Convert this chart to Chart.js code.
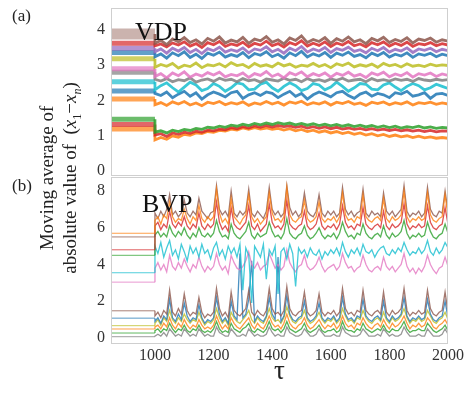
<!DOCTYPE html>
<html>
<head>
<meta charset="utf-8">
<script src="https://cdn.jsdelivr.net/npm/chart.js@4.4.0/dist/chart.umd.min.js"></script>
<style>
  html, body { margin: 0; padding: 0; background: #fff; }
  #wrap { position: relative; width: 471px; height: 394px; font-family: "Liberation Serif", "DejaVu Serif", serif; color: #222; }
  #topChart { position: absolute; left: 0; top: 0; }
  #botChart { position: absolute; left: 0; top: 176px; }
  .tag { position: absolute; left: 12px; font-size: 17px; line-height: 19px; }
  #ylab { position: absolute; left: 62px; top: 178px; width: 280px; transform: translate(-50%, -50%) rotate(-90deg);
          text-align: center; font-size: 19px; line-height: 23px; white-space: nowrap; }
  #ylab sub { font-size: 12px; }
</style>
</head>
<body>
<div id="wrap">
  <canvas id="topChart" width="471" height="177"></canvas>
  <canvas id="botChart" width="471" height="218"></canvas>
  <div class="tag" style="top:6px">(a)</div>
  <div class="tag" style="top:176px">(b)</div>
  <div id="ylab">Moving average of<br>absolute value of &nbsp;(<i>x</i><sub>1</sub>&minus;<i>x<sub>n</sub></i>)</div>
</div>
<script>
// ---- data ----
const tauStart = 850;
const tauTop = [1000,1020,1040,1060,1080,1100,1120,1140,1160,1180,
  1200,1220,1240,1260,1280,1300,1320,1340,1360,1380,
  1400,1420,1440,1460,1480,1500,1520,1540,1560,1580,
  1600,1620,1640,1660,1680,1700,1720,1740,1760,1780,
  1800,1820,1840,1860,1880,1900,1920,1940,1960,1980,2000];
const tauBot = [1000,1010,1020,1030,1040,1050,1060,1070,1080,1090,
  1100,1110,1120,1130,1140,1150,1160,1170,1180,1190,
  1200,1210,1220,1230,1240,1250,1260,1270,1280,1290,
  1300,1310,1320,1330,1340,1350,1360,1370,1380,1390,
  1400,1410,1420,1430,1440,1450,1460,1470,1480,1490,
  1500,1510,1520,1530,1540,1550,1560,1570,1580,1590,
  1600,1610,1620,1630,1640,1650,1660,1670,1680,1690,
  1700,1710,1720,1730,1740,1750,1760,1770,1780,1790,
  1800,1810,1820,1830,1840,1850,1860,1870,1880,1890,
  1900,1910,1920,1930,1940,1950,1960,1970,1980,1990,2000];
const vdpTicks = [0, 1, 2, 3, 4];
const bvpTicks = [0, 2, 4, 6, 8];
const tauTicks = [1000, 1200, 1400, 1600, 1800, 2000];

// (a) VDP: level before tau=1000, then values
const vdpPre = [3.88, 3.62, 3.48, 3.36, 3.18, 2.90, 2.80, 2.53, 2.27, 2.04, 1.47, 1.32, 1.19];
const vdpBrown = [3.62,3.70,3.58,3.74,3.66,3.78,3.64,3.72,3.60,3.76,
  3.68,3.80,3.63,3.71,3.66,3.79,3.62,3.74,3.69,3.81,
  3.65,3.72,3.60,3.77,3.70,3.83,3.64,3.73,3.67,3.78,
  3.62,3.75,3.68,3.80,3.66,3.72,3.61,3.76,3.69,3.79,
  3.64,3.73,3.67,3.78,3.63,3.74,3.70,3.77,3.65,3.72,3.68];
const vdpRed = [3.55,3.60,3.52,3.63,3.57,3.66,3.54,3.61,3.50,3.64,
  3.58,3.67,3.53,3.60,3.56,3.65,3.52,3.62,3.57,3.68,
  3.55,3.61,3.51,3.64,3.58,3.69,3.54,3.62,3.56,3.66,
  3.53,3.63,3.57,3.67,3.55,3.60,3.52,3.64,3.58,3.66,
  3.54,3.62,3.56,3.65,3.53,3.61,3.58,3.64,3.55,3.61,3.57];
const vdpPurple = [3.38,3.46,3.34,3.48,3.40,3.50,3.36,3.45,3.33,3.47,
  3.41,3.51,3.37,3.44,3.39,3.49,3.35,3.46,3.42,3.52,
  3.38,3.45,3.34,3.48,3.41,3.53,3.37,3.46,3.40,3.50,
  3.36,3.47,3.42,3.51,3.39,3.44,3.35,3.48,3.41,3.50,
  3.37,3.45,3.40,3.49,3.36,3.46,3.42,3.48,3.38,3.45,3.41];
const vdpBlue = [3.24,3.32,3.20,3.35,3.27,3.38,3.22,3.31,3.19,3.34,
  3.28,3.37,3.23,3.30,3.25,3.36,3.21,3.33,3.28,3.38,
  3.24,3.31,3.20,3.35,3.27,3.39,3.23,3.32,3.26,3.36,
  3.22,3.34,3.28,3.37,3.25,3.30,3.21,3.34,3.27,3.36,
  3.23,3.31,3.26,3.35,3.22,3.32,3.28,3.34,3.24,3.31,3.27];
const vdpOlive = [2.94,3.02,2.97,3.05,2.92,3.00,2.96,3.06,2.93,3.01,
  2.98,3.04,2.95,3.07,2.99,3.02,2.93,3.05,2.97,3.01,
  2.95,3.06,2.98,3.03,2.94,3.00,2.97,3.05,2.96,3.02,
  2.93,3.04,2.99,3.06,2.95,3.01,2.97,3.03,2.94,3.05,
  2.98,3.02,2.95,3.04,2.97,3.00,2.96,3.03,2.98,3.01,2.99];
const vdpPink = [2.68,2.76,2.64,2.78,2.70,2.81,2.66,2.75,2.69,2.79,
  2.72,2.80,2.67,2.74,2.70,2.78,2.65,2.76,2.71,2.82,
  2.68,2.75,2.64,2.79,2.72,2.81,2.67,2.76,2.70,2.78,
  2.66,2.77,2.71,2.80,2.69,2.74,2.65,2.78,2.72,2.80,
  2.67,2.75,2.70,2.79,2.66,2.76,2.72,2.78,2.68,2.75,2.71];
const vdpGray = [2.60,2.55,2.62,2.53,2.59,2.56,2.64,2.52,2.58,2.61,
  2.54,2.63,2.57,2.60,2.53,2.62,2.56,2.59,2.52,2.61,
  2.58,2.55,2.63,2.57,2.60,2.53,2.62,2.56,2.59,2.54,
  2.61,2.57,2.63,2.55,2.58,2.60,2.53,2.62,2.56,2.59,
  2.55,2.61,2.57,2.60,2.54,2.62,2.58,2.56,2.60,2.57,2.59];
const vdpCyan = [2.30,2.42,2.50,2.36,2.24,2.38,2.52,2.44,2.28,2.34,
  2.48,2.40,2.26,2.36,2.50,2.46,2.30,2.32,2.46,2.52,
  2.36,2.26,2.40,2.50,2.42,2.28,2.34,2.48,2.44,2.30,
  2.38,2.52,2.40,2.26,2.36,2.48,2.46,2.32,2.30,2.44,
  2.50,2.38,2.28,2.40,2.48,2.42,2.30,2.36,2.46,2.40,2.34];
const vdpBlue2 = [2.20,2.14,2.24,2.08,2.18,2.26,2.12,2.22,2.04,2.16,
  2.24,2.18,2.10,2.22,2.26,2.06,2.16,2.22,2.14,2.24,
  2.20,2.08,2.18,2.26,2.12,2.20,2.04,2.16,2.24,2.18,
  2.10,2.22,2.26,2.14,2.06,2.18,2.24,2.12,2.20,2.16,
  2.08,2.22,2.18,2.26,2.12,2.16,2.22,2.06,2.18,2.20,2.14];
const vdpOrange = [1.88,1.94,1.86,1.96,1.90,1.97,1.87,1.93,1.85,1.95,
  1.91,1.97,1.88,1.94,1.90,1.96,1.86,1.93,1.89,1.97,
  1.90,1.95,1.87,1.96,1.92,1.98,1.88,1.94,1.90,1.96,
  1.87,1.95,1.91,1.97,1.89,1.93,1.86,1.95,1.91,1.96,
  1.88,1.94,1.90,1.96,1.87,1.94,1.91,1.95,1.89,1.93,1.90];
const vdpGreenLow = [1.10,1.14,1.08,1.16,1.12,1.18,1.15,1.21,1.18,1.24,
  1.22,1.27,1.24,1.30,1.27,1.33,1.29,1.35,1.31,1.36,
  1.32,1.37,1.33,1.36,1.31,1.35,1.30,1.34,1.29,1.33,
  1.28,1.32,1.27,1.31,1.26,1.30,1.25,1.29,1.24,1.28,
  1.23,1.27,1.22,1.26,1.23,1.27,1.22,1.25,1.21,1.24,1.22];
const vdpRedLow = [1.02,1.06,0.98,1.08,1.04,1.10,1.07,1.13,1.10,1.16,
  1.14,1.19,1.17,1.23,1.20,1.26,1.22,1.28,1.24,1.29,
  1.25,1.29,1.26,1.28,1.24,1.27,1.22,1.26,1.21,1.25,
  1.20,1.24,1.19,1.22,1.18,1.21,1.17,1.20,1.16,1.19,
  1.15,1.18,1.14,1.17,1.13,1.16,1.12,1.15,1.11,1.14,1.13];
const vdpOrangeLow = [0.88,0.95,0.90,1.00,0.96,1.04,1.01,1.08,1.06,1.12,
  1.10,1.15,1.13,1.19,1.16,1.22,1.18,1.23,1.19,1.22,
  1.18,1.21,1.16,1.20,1.14,1.18,1.12,1.16,1.10,1.14,
  1.08,1.12,1.06,1.10,1.04,1.08,1.02,1.06,1.00,1.04,
  0.98,1.02,0.97,1.00,0.95,0.99,0.94,0.97,0.93,0.95,0.93];

// (b) BVP
const bvpPre = [5.70, 5.50, 4.80, 4.50, 3.55, 3.04, 1.48, 1.08, 0.67, 0.49, 0.27, 0.07];
const bvpOrange = [6.4,6.6,6.2,6.7,6.5,7.4,6.6,6.3,6.5,6.4,
  7.0,6.5,6.2,6.6,6.4,7.2,6.5,6.3,6.6,6.4,
  6.6,8.1,6.8,6.3,6.5,6.2,7.6,6.6,6.4,6.2,
  6.5,6.7,7.8,6.6,6.3,6.5,6.2,6.4,6.6,7.9,
  6.8,6.4,6.5,6.3,6.6,8.2,6.7,6.4,6.3,6.5,
  6.6,7.5,6.5,6.3,6.4,6.6,7.4,6.5,6.3,6.5,
  6.4,6.6,6.3,6.6,7.9,6.7,6.4,6.5,6.3,6.6,
  6.5,7.8,6.6,6.4,6.3,6.5,6.6,6.4,7.6,6.5,
  6.3,6.6,6.4,6.5,6.7,8.0,6.6,6.3,6.5,6.4,
  6.6,6.4,6.5,7.9,6.7,6.4,6.3,6.5,6.6,7.8,6.6];
const bvpBrown = [6.8,6.5,6.9,6.6,7.0,7.8,6.7,6.9,6.6,6.8,
  7.5,6.8,6.6,6.9,6.7,7.6,6.9,6.7,6.5,6.8,
  6.9,8.3,7.0,6.7,6.9,6.6,8.0,6.8,6.6,6.9,
  6.7,6.9,8.1,6.8,6.6,6.9,6.7,6.5,6.9,8.2,
  7.0,6.7,6.9,6.6,6.8,8.3,7.1,6.7,6.9,6.6,
  6.8,7.9,6.9,6.7,6.6,6.9,7.8,6.8,6.6,6.9,
  6.7,6.9,6.6,6.8,8.2,7.0,6.7,6.9,6.6,6.8,
  6.9,8.1,6.8,6.6,6.9,6.7,6.8,6.6,7.9,6.9,
  6.7,6.9,6.6,6.8,7.0,8.3,6.9,6.6,6.8,6.7,
  6.9,6.6,6.8,8.2,7.0,6.7,6.6,6.9,6.8,8.0,6.9];
const bvpRed = [6.1,6.3,5.9,6.2,6.0,6.9,6.2,6.0,6.3,6.1,
  6.6,6.1,5.9,6.2,6.0,6.8,6.1,5.9,6.2,6.0,
  6.2,7.4,6.3,5.9,6.1,5.8,7.1,6.2,6.0,5.9,
  6.1,6.3,7.2,6.1,5.9,6.2,5.8,6.0,6.2,7.3,
  6.3,6.0,6.1,5.9,6.2,7.5,6.2,6.0,5.9,6.1,
  6.2,6.9,6.1,5.9,6.0,6.2,6.8,6.1,5.9,6.1,
  6.0,6.2,5.9,6.2,7.2,6.3,6.0,6.1,5.9,6.2,
  6.1,7.1,6.2,6.0,5.9,6.1,6.2,6.0,6.9,6.1,
  5.9,6.2,6.0,6.1,6.3,7.3,6.2,5.9,6.1,6.0,
  6.2,6.0,6.1,7.2,6.3,6.0,5.9,6.1,6.2,7.1,6.2];
const bvpGreen = [5.6,5.8,5.5,5.7,5.5,6.1,5.7,5.5,5.8,5.6,
  6.0,5.6,5.4,5.7,5.5,6.0,5.6,5.5,5.7,5.5,
  5.7,6.4,5.8,5.5,5.6,5.4,6.2,5.7,5.5,5.4,
  5.6,5.8,6.3,5.6,5.4,5.7,5.5,5.6,5.7,6.3,
  5.8,5.5,5.6,5.4,5.7,6.5,5.7,5.5,5.4,5.6,
  5.7,6.1,5.6,5.4,5.5,5.7,6.0,5.6,5.4,5.6,
  5.5,5.7,5.4,5.7,6.3,5.8,5.5,5.6,5.4,5.7,
  5.6,6.2,5.7,5.5,5.4,5.6,5.7,5.5,6.1,5.6,
  5.4,5.7,5.5,5.6,5.8,6.4,5.7,5.4,5.6,5.5,
  5.7,5.5,5.6,6.3,5.8,5.5,5.4,5.6,5.7,6.2,5.7];
const bvpCyan = [5.0,4.6,5.2,4.4,4.9,5.3,4.5,4.8,4.3,5.1,
  4.7,4.2,5.0,4.6,4.9,4.4,5.1,4.6,4.8,4.3,
  4.9,5.2,4.5,4.8,4.3,5.0,4.6,4.9,4.4,5.1,
  2.6,4.9,4.5,1.9,5.0,4.7,4.4,5.1,3.2,4.8,
  4.5,5.0,2.4,4.7,4.9,4.3,5.1,4.6,2.8,4.9,
  4.6,4.8,4.4,4.9,4.6,4.5,4.8,4.3,4.7,4.5,
  4.8,4.6,4.9,4.5,5.2,4.7,4.4,4.8,4.6,4.9,
  4.5,5.1,4.7,4.6,4.8,4.4,4.7,4.9,5.0,4.6,
  4.5,4.8,4.6,4.9,4.7,5.2,4.8,4.5,4.7,4.6,
  4.9,4.6,4.8,5.3,4.7,4.5,4.9,4.6,4.8,5.2,4.9];
const bvpPink = [3.8,4.1,3.7,4.0,3.6,4.5,3.9,3.7,4.1,3.8,
  4.3,3.9,3.6,4.0,3.8,4.4,3.9,3.6,3.9,3.7,
  3.9,4.6,4.0,3.7,3.9,3.5,4.5,4.1,3.8,3.7,
  3.9,4.2,4.7,4.0,3.8,4.1,3.7,3.9,4.0,4.6,
  4.2,3.8,4.0,3.7,3.9,4.8,4.1,3.8,3.6,3.9,
  4.0,4.5,3.9,3.7,3.8,4.0,4.4,3.9,3.6,3.8,
  3.9,4.0,3.7,3.9,4.6,4.1,3.8,3.9,3.6,3.8,
  3.9,4.5,4.0,3.7,3.6,3.8,3.9,3.7,4.4,3.9,
  3.7,3.9,3.6,3.8,4.0,4.6,3.9,3.6,3.8,3.5,
  3.8,3.6,3.9,4.5,4.0,3.7,3.5,3.8,3.9,4.4,3.9];
const bvpBrownLow = [1.2,1.4,1.1,1.5,1.3,2.6,1.4,1.2,1.6,1.3,
  2.4,1.5,1.2,1.4,1.3,2.2,1.4,1.1,1.3,1.2,
  1.4,2.7,1.6,1.2,1.4,1.1,2.5,1.5,1.3,1.2,
  1.4,1.6,2.6,1.4,1.2,1.5,1.3,1.2,1.5,2.7,
  1.6,1.3,1.4,1.2,1.5,2.8,1.6,1.3,1.2,1.4,
  1.5,2.5,1.4,1.2,1.3,1.5,2.4,1.4,1.2,1.4,
  1.3,1.5,1.2,1.4,2.7,1.6,1.3,1.4,1.2,1.5,
  1.4,2.6,1.5,1.3,1.2,1.4,1.5,1.3,2.5,1.4,
  1.2,1.5,1.3,1.4,1.6,2.7,1.5,1.2,1.4,1.3,
  1.5,1.3,1.4,2.6,1.6,1.3,1.2,1.4,1.5,2.5,1.4];
const bvpBlue = [0.9,1.1,0.8,1.2,1.0,2.1,1.1,0.9,1.3,1.0,
  1.9,1.2,0.9,1.1,1.0,1.8,1.1,0.8,1.0,0.9,
  1.1,2.2,1.3,0.9,1.1,0.8,2.0,1.2,1.0,4.6,
  1.1,1.3,2.1,4.2,0.9,1.2,1.0,0.9,1.2,2.2,
  1.3,1.0,4.4,0.9,1.2,2.3,1.3,1.0,0.9,1.1,
  1.2,2.0,1.1,0.9,1.0,1.2,1.9,1.1,0.9,1.1,
  1.0,1.2,0.9,1.1,2.2,1.3,1.0,1.1,0.9,1.2,
  1.1,2.1,1.2,1.0,0.9,1.1,1.2,1.0,2.0,1.1,
  0.9,1.2,1.0,1.1,1.3,2.2,1.2,0.9,1.1,1.0,
  1.2,1.0,1.1,2.1,1.3,1.0,0.9,1.1,1.2,2.0,1.1];
const bvpOlive = [0.8,1.0,0.7,1.1,0.9,1.5,1.0,0.8,1.1,0.9,
  1.3,1.0,0.8,1.0,0.9,1.4,1.0,0.7,0.9,0.8,
  1.0,1.6,1.1,0.8,1.0,0.7,1.4,1.1,0.9,0.8,
  1.0,1.2,1.5,1.0,0.8,1.1,0.9,0.8,1.1,1.6,
  1.1,0.9,1.0,0.8,1.1,1.7,1.2,0.9,0.8,1.0,
  1.1,1.5,1.0,0.8,0.9,1.1,1.4,1.0,0.8,1.0,
  0.9,1.1,0.8,1.0,1.6,1.2,0.9,1.0,0.8,1.1,
  1.0,1.5,1.1,0.9,0.8,1.0,1.1,0.9,1.4,1.0,
  0.8,1.1,0.9,1.0,1.2,1.6,1.1,0.8,1.0,0.9,
  1.1,0.9,1.0,1.5,1.2,0.9,0.8,1.0,1.1,1.4,1.0];
const bvpOrangeLow = [0.6,0.7,0.5,0.8,0.6,1.1,0.7,0.5,0.8,0.6,
  1.0,0.7,0.5,0.7,0.6,1.0,0.7,0.5,0.6,0.5,
  0.7,1.2,0.8,0.5,0.7,0.5,1.1,0.8,0.6,0.5,
  0.7,0.9,1.1,0.7,0.5,0.8,0.6,0.5,0.8,1.2,
  0.8,0.6,0.7,0.5,0.8,1.3,0.8,0.6,0.5,0.7,
  0.8,1.1,0.7,0.5,0.6,0.8,1.0,0.7,0.5,0.7,
  0.6,0.8,0.5,0.7,1.2,0.8,0.6,0.7,0.5,0.8,
  0.7,1.1,0.8,0.6,0.5,0.7,0.8,0.6,1.0,0.7,
  0.5,0.8,0.6,0.7,0.9,1.2,0.8,0.5,0.7,0.6,
  0.8,0.6,0.7,1.1,0.9,0.6,0.5,0.7,0.8,1.0,0.7];
const bvpGreenLow = [0.4,0.5,0.3,0.5,0.4,0.8,0.5,0.3,0.5,0.4,
  0.7,0.4,0.3,0.5,0.4,0.7,0.4,0.3,0.4,0.3,
  0.5,0.9,0.5,0.3,0.4,0.3,0.8,0.5,0.4,0.3,
  0.5,0.6,0.8,0.4,0.3,0.5,0.4,0.3,0.5,0.9,
  0.5,0.4,0.5,0.3,0.5,0.9,0.5,0.4,0.3,0.4,
  0.5,0.8,0.4,0.3,0.4,0.5,0.7,0.4,0.3,0.4,
  0.4,0.5,0.3,0.4,0.9,0.5,0.4,0.4,0.3,0.5,
  0.4,0.8,0.5,0.4,0.3,0.4,0.5,0.4,0.7,0.4,
  0.3,0.5,0.4,0.4,0.6,0.9,0.5,0.3,0.4,0.4,
  0.5,0.4,0.4,0.8,0.6,0.4,0.3,0.4,0.5,0.7,0.4];
const bvpGray = [0.1,0.2,0.1,0.3,0.1,0.5,0.3,0.1,0.2,0.1,
  0.5,0.3,0.1,0.2,0.1,0.5,0.3,0.1,0.2,0.1,
  0.1,0.6,0.3,0.2,0.1,0.1,0.5,0.3,0.1,0.1,
  0.2,0.1,0.5,0.3,0.1,0.2,0.1,0.1,0.2,0.6,
  0.3,0.1,0.2,0.1,0.1,0.6,0.3,0.2,0.1,0.1,
  0.2,0.5,0.3,0.1,0.1,0.2,0.5,0.3,0.1,0.1,
  0.1,0.2,0.1,0.1,0.6,0.3,0.2,0.1,0.1,0.1,
  0.2,0.5,0.3,0.1,0.1,0.1,0.2,0.1,0.5,0.3,
  0.1,0.2,0.1,0.1,0.2,0.6,0.3,0.1,0.1,0.1,
  0.2,0.1,0.1,0.5,0.3,0.1,0.1,0.1,0.2,0.5,0.2];

// ---- styling ----
const C = {
  blue: [31, 119, 180], orange: [255, 127, 14], green: [44, 160, 44], red: [214, 39, 40],
  purple: [148, 103, 189], brown: [140, 86, 75], pink: [227, 119, 194], gray: [127, 127, 127],
  olive: [188, 189, 34], cyan: [23, 190, 207]
};
const rgba = (c, a) => `rgba(${c[0]},${c[1]},${c[2]},${a})`;
const serif = '"Liberation Serif", "DejaVu Serif", serif';
Chart.defaults.font.family = serif;
Chart.defaults.font.size = 16;
Chart.defaults.color = '#333';

const vdpSeries = [vdpBrown, vdpRed, vdpPurple, vdpBlue, vdpOlive, vdpPink, vdpGray, vdpCyan, vdpBlue2, vdpOrange, vdpGreenLow, vdpRedLow, vdpOrangeLow];
const vdpColors = [C.brown, C.red, C.purple, C.blue, C.olive, C.pink, C.gray, C.cyan, C.blue, C.orange, C.green, C.red, C.orange];
const bvpSeries = [bvpOrange, bvpBrown, bvpRed, bvpGreen, bvpCyan, bvpPink, bvpBrownLow, bvpBlue, bvpOlive, bvpOrangeLow, bvpGreenLow, bvpGray];
const bvpColors = [C.orange, C.brown, C.red, C.green, C.cyan, C.pink, C.brown, C.blue, C.olive, C.orange, C.green, C.gray];

function makeSets(pre, series, taus, colors, st) {
  return series.map((vals, i) => {
    const pts = [{ x: tauStart, y: pre[i] }, { x: 1000, y: pre[i] }]
      .concat(vals.map((v, j) => ({ x: taus[j], y: v })));
    const first = i === 0 && st.firstPreW;
    return {
      data: pts,
      borderColor: rgba(colors[i], st.postA),
      borderWidth: st.postW,
      pointRadius: 0,
      tension: 0,
      segment: {
        borderWidth: c => c.p0.parsed.x < 1000 ? (first ? st.firstPreW : st.preW) : st.postW,
        borderColor: c => c.p0.parsed.x < 1000 ? rgba(colors[i], first ? st.firstPreA : st.preA) : rgba(colors[i], st.postA)
      }
    };
  });
}

const panelFrame = {
  id: 'panelFrame',
  afterDraw(chart, args, opts) {
    const { ctx, chartArea: a } = chart;
    ctx.save();
    ctx.strokeStyle = '#cfcfcf';
    ctx.lineWidth = 1;
    ctx.strokeRect(a.left + 0.5, a.top + 0.5, a.right - a.left - 1, a.bottom - a.top - 1);
    ctx.font = '26px ' + serif;
    ctx.fillStyle = '#111';
    ctx.textBaseline = 'alphabetic';
    ctx.fillText(opts.text, opts.x, opts.y);
    ctx.restore();
  }
};

// keep the plot box exactly where the layout padding puts it
const noEdgePad = s => { s.paddingTop = 0; s.paddingBottom = 0; s.paddingLeft = 0; s.paddingRight = 0; };

new Chart(document.getElementById('topChart'), {
  type: 'line',
  data: { datasets: makeSets(vdpPre, vdpSeries, tauTop, vdpColors,
    { postW: 2.8, postA: 0.85, preW: 5, preA: 0.7, firstPreW: 11, firstPreA: 0.45 }) },
  plugins: [panelFrame],
  options: {
    responsive: false,
    animation: false,
    layout: { padding: { left: 0, right: 23, top: 8, bottom: 1 } },
    scales: {
      x: { type: 'linear', min: tauStart, max: 2000, display: false },
      y: {
        min: -0.14, max: 4.62,
        grid: { display: false, drawTicks: false },
        border: { display: false },
        afterBuildTicks: s => { s.ticks = vdpTicks.map(v => ({ value: v })); },
        afterFit: s => { s.width = 111; noEdgePad(s); },
        ticks: { padding: 6, callback: v => String(v) }
      }
    },
    plugins: {
      legend: { display: false },
      tooltip: { enabled: false },
      panelFrame: { text: 'VDP', x: 135, y: 40 }
    }
  }
});

new Chart(document.getElementById('botChart'), {
  type: 'line',
  data: { datasets: makeSets(bvpPre, bvpSeries, tauBot, bvpColors,
    { postW: 1.3, postA: 0.8, preW: 1, preA: 0.75 }) },
  plugins: [panelFrame],
  options: {
    responsive: false,
    animation: false,
    layout: { padding: { left: 0, right: 23, top: 1, bottom: 0 } },
    scales: {
      x: {
        type: 'linear', min: tauStart, max: 2000,
        grid: { display: false, drawTicks: false },
        border: { display: false },
        afterBuildTicks: s => { s.ticks = tauTicks.map(v => ({ value: v })); },
        afterFit: s => { s.height = 50; noEdgePad(s); },
        ticks: { padding: 2, autoSkip: false, maxRotation: 0, callback: v => String(v) },
        title: { display: true, text: 'τ', font: { size: 27 }, color: '#222', padding: { top: 0, bottom: 6 } }
      },
      y: {
        min: -0.327, max: 8.762,
        grid: { display: false, drawTicks: false },
        border: { display: false },
        afterBuildTicks: s => { s.ticks = bvpTicks.map(v => ({ value: v })); },
        afterFit: s => { s.width = 111; noEdgePad(s); },
        ticks: { padding: 6, callback: v => String(v) }
      }
    },
    plugins: {
      legend: { display: false },
      tooltip: { enabled: false },
      panelFrame: { text: 'BVP', x: 142, y: 36 }
    }
  }
});
</script>
</body>
</html>
